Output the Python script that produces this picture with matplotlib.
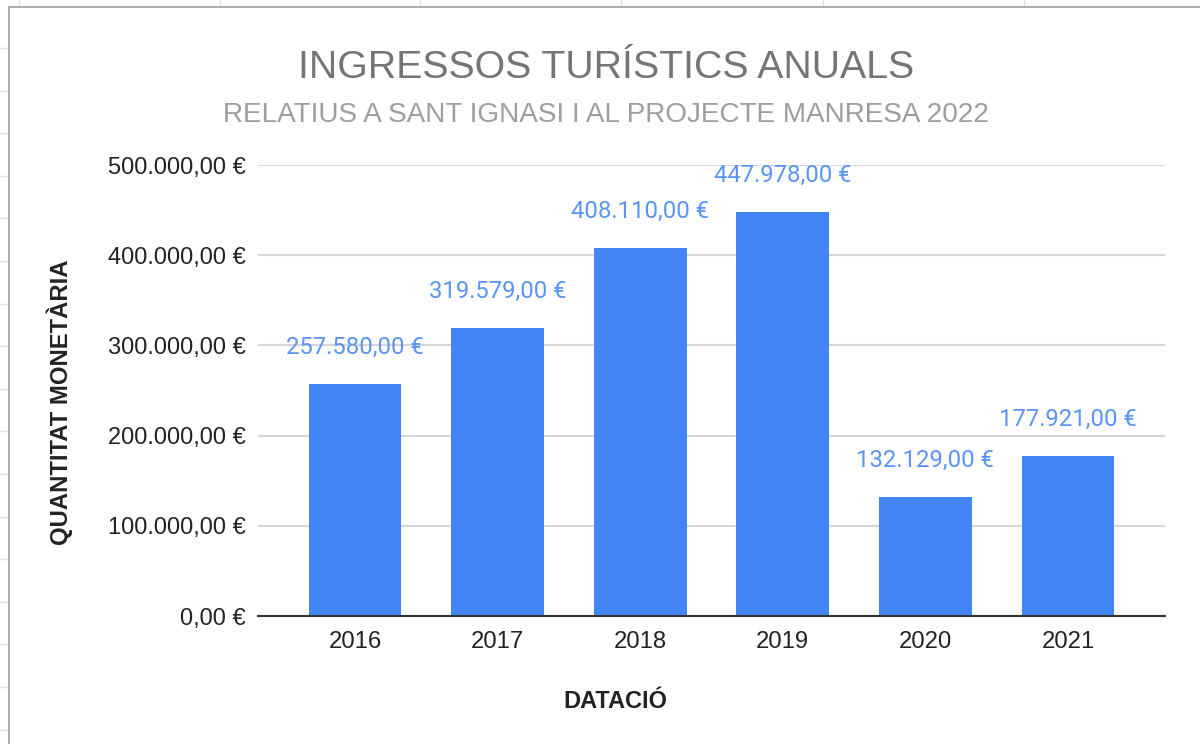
# Annual tourist income bar chart (Google Sheets style)
import matplotlib
matplotlib.use('Agg')
import matplotlib.pyplot as plt
from matplotlib.lines import Line2D

years = ['2016', '2017', '2018', '2019', '2020', '2021']
income = [257580, 319579, 408110, 447978, 132129, 177921]
yticks = [0, 100000, 200000, 300000, 400000, 500000]

def euro(v):
    # 257580 -> "257.580,00 €"
    s = f'{v:,.2f}'.replace(',', 'X').replace('.', ',').replace('X', '.')
    return s + ' €'

W, H = 1200, 744
fig = plt.figure(figsize=(W / 100, H / 100), dpi=100)

def fx(px):
    return px / W

def fy(py):
    return 1 - py / H

# spreadsheet cells around the chart
grid_c = '#e2e2e2'
for x in [19, 220, 420, 621, 823, 1024]:
    fig.add_artist(Line2D([fx(x), fx(x)], [fy(0), fy(7)], color=grid_c, lw=1))
y = 48
while y < H:
    fig.add_artist(Line2D([fx(0), fx(8)], [fy(y), fy(y)], color=grid_c, lw=1))
    y += 42.6
# chart frame
fig.add_artist(Line2D([fx(9), fx(9)], [fy(7), fy(H)], color='#a6a6a6', lw=1.3))
fig.add_artist(Line2D([fx(9), fx(W)], [fy(7), fy(7)], color='#a6a6a6', lw=1.3))

ax = fig.add_axes([fx(258), fy(616), fx(1165) - fx(258), fy(165) - fy(616)])

x = list(range(len(years)))
bars = ax.bar(x, income, width=0.65, color='#4285F4', zorder=3)

for xi, v in zip(x, income):
    ax.annotate(euro(v), (xi, v), xytext=(0, 26), textcoords='offset points',
                ha='center', va='center', color='#5a94f5', fontsize=17.2,
                family='Roboto', zorder=4)

ax.set_xlim(-0.68, 5.68)
ax.set_ylim(0, 500000)
ax.set_yticks(yticks)
ax.set_yticklabels([euro(v) for v in yticks], family='Liberation Sans',
                   fontsize=17, color='#222222')
ax.set_xticks(x)
ax.set_xticklabels(years, family='Liberation Sans', fontsize=17.2, color='#222222')
ax.tick_params(axis='both', length=0)
ax.tick_params(axis='y', pad=8.6)
ax.tick_params(axis='x', pad=11)

ax.grid(axis='y', color='#d6d6d6', lw=1.5, zorder=0)
for s in ['top', 'right', 'left']:
    ax.spines[s].set_visible(False)
ax.spines['bottom'].set_color('#333333')
ax.spines['bottom'].set_linewidth(1.5)
ax.spines['bottom'].set_zorder(5)

fig.text(fx(606), fy(78), 'INGRESSOS TURÍSTICS ANUALS', ha='center', va='baseline',
         family='Liberation Sans', fontsize=28.3, color='#757575')
fig.text(fx(606), fy(122), 'RELATIUS A SANT IGNASI I AL PROJECTE MANRESA 2022',
         ha='center', va='baseline', family='Liberation Sans', fontsize=20.1,
         color='#9e9e9e')
fig.text(fx(60), fy(402), 'QUANTITAT MONETÀRIA', rotation=90, ha='center', va='center',
         family='Liberation Sans', fontsize=17.2, fontweight='bold', color='#222222')
fig.text(fx(615), fy(708), 'DATACIÓ', ha='center', va='baseline',
         family='Liberation Sans', fontsize=17, fontweight='bold', color='#222222')

fig.savefig('out.png', dpi=100)
